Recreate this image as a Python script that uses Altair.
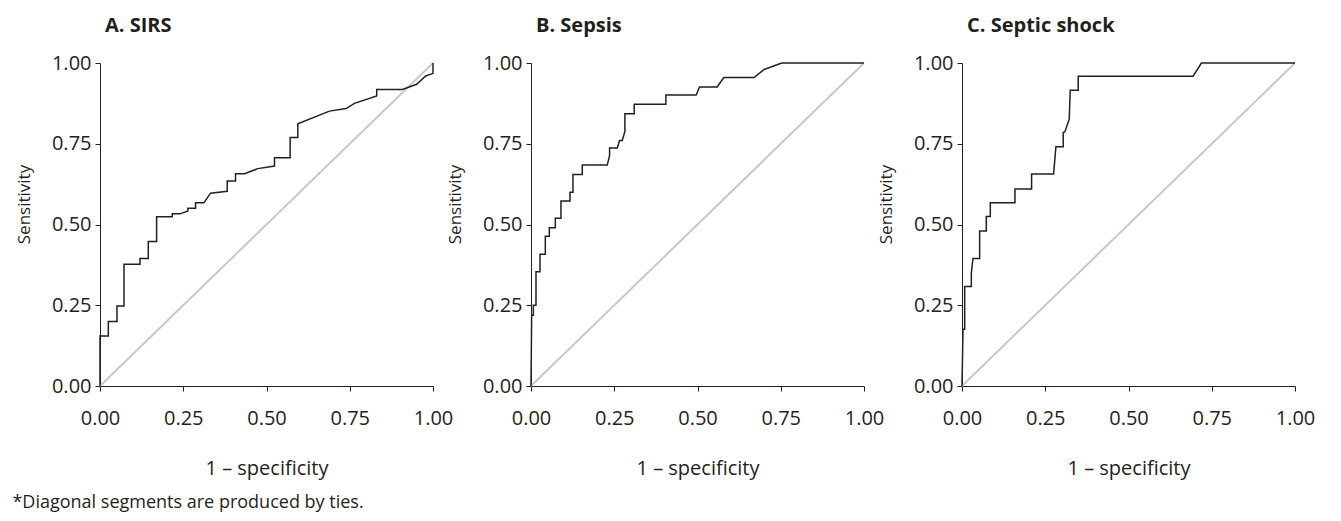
import altair as alt
import pandas as pd

TICKS = [0, 0.25, 0.5, 0.75, 1]

# Panel A. SIRS  (1 - specificity, sensitivity)
sirs_fpr = [0, 0, 0.025, 0.025, 0.051, 0.051, 0.072, 0.072, 0.12, 0.12, 0.145, 0.145,
            0.17, 0.17, 0.217, 0.217, 0.24, 0.264, 0.264, 0.287, 0.287, 0.312, 0.332,
            0.382, 0.382, 0.407, 0.407, 0.434, 0.474, 0.524, 0.524, 0.571, 0.571,
            0.594, 0.594, 0.689, 0.739, 0.764, 0.831, 0.831, 0.908, 0.951, 0.978, 1.0, 1.0]
sirs_tpr = [0, 0.155, 0.155, 0.20, 0.20, 0.248, 0.248, 0.377, 0.377, 0.395, 0.395, 0.447,
            0.447, 0.524, 0.524, 0.533, 0.533, 0.542, 0.55, 0.55, 0.567, 0.567, 0.597,
            0.603, 0.635, 0.635, 0.657, 0.657, 0.673, 0.681, 0.707, 0.707, 0.769,
            0.769, 0.812, 0.851, 0.859, 0.875, 0.898, 0.918, 0.918, 0.934, 0.96, 0.968, 1.0]

# Panel B. Sepsis
sepsis_fpr = [0, 0.002, 0.007, 0.007, 0.015, 0.015, 0.027, 0.027, 0.043, 0.043, 0.055, 0.055,
              0.073, 0.073, 0.09, 0.09, 0.117, 0.117, 0.126, 0.126, 0.154, 0.154, 0.229,
              0.236, 0.236, 0.259, 0.266, 0.274, 0.282, 0.282, 0.31, 0.31, 0.405, 0.405,
              0.496, 0.506, 0.559, 0.579, 0.67, 0.70, 0.753, 1.0]
sepsis_tpr = [0, 0.219, 0.219, 0.25, 0.25, 0.354, 0.354, 0.408, 0.408, 0.464, 0.464, 0.49,
              0.49, 0.519, 0.519, 0.573, 0.573, 0.60, 0.60, 0.655, 0.655, 0.684, 0.684,
              0.714, 0.737, 0.737, 0.76, 0.76, 0.788, 0.843, 0.843, 0.872, 0.872, 0.901,
              0.901, 0.926, 0.926, 0.955, 0.955, 0.98, 1.0, 1.0]

# Panel C. Septic shock
shock_fpr = [0, 0.003, 0.008, 0.008, 0.028, 0.028, 0.033, 0.053, 0.053, 0.073, 0.073, 0.085,
             0.085, 0.159, 0.159, 0.209, 0.209, 0.275, 0.282, 0.304, 0.304, 0.309, 0.322,
             0.325, 0.349, 0.349, 0.694, 0.719, 1.0]
shock_tpr = [0, 0.176, 0.176, 0.308, 0.308, 0.349, 0.395, 0.395, 0.48, 0.48, 0.525, 0.525,
             0.567, 0.567, 0.61, 0.61, 0.656, 0.656, 0.741, 0.741, 0.785, 0.787, 0.826,
             0.916, 0.916, 0.959, 0.959, 1.0, 1.0]

titles = ["A. SIRS", "B. Sepsis", "C. Septic shock"]
diag_x = [0, 1]
diag_y = [0, 1]

FONT = "Open Sans"
INK = "#231f20"


def panel(xs, ys, title):
    df = pd.DataFrame({"fpr": xs, "tpr": ys, "order": list(range(len(xs)))})
    diag = pd.DataFrame({"fpr": diag_x, "tpr": diag_y})
    xenc = alt.X("fpr:Q",
                 scale=alt.Scale(domain=[0, 1], nice=False, zero=False),
                 axis=alt.Axis(values=TICKS, format=".2f", title="1 – specificity",
                               labelFlush=False, labelPadding=17, titlePadding=30,
                               titleFontSize=20))
    yenc = alt.Y("tpr:Q",
                 scale=alt.Scale(domain=[0, 1], nice=False, zero=False),
                 axis=alt.Axis(values=TICKS, format=".2f", title="Sensitivity",
                               labelFlush=False, labelPadding=4, titlePadding=18,
                               titleY=141, titleFontSize=17))
    d = alt.Chart(diag).mark_line(color="#c8c8c8", strokeWidth=2).encode(x=xenc, y=yenc)
    c = alt.Chart(df).mark_line(color=INK, strokeWidth=1.5).encode(
        x=xenc, y=yenc, order="order:Q")
    return alt.layer(d, c).properties(
        width=333, height=323,
        title=alt.TitleParams(title, anchor="start", frame="group", dx=5, fontSize=20,
                              fontWeight="bold", font=FONT, color=INK, offset=17))


chart = alt.hconcat(
    panel(sirs_fpr, sirs_tpr, titles[0]),
    panel(sepsis_fpr, sepsis_tpr, titles[1]),
    panel(shock_fpr, shock_tpr, titles[2]),
    spacing=98, bounds="flush",
).properties(
    padding={"left": 4, "top": 8, "right": 5, "bottom": 5},
    title=alt.TitleParams("*Diagonal segments are produced by ties.", orient="bottom",
                          anchor="start", fontSize=18, fontWeight="normal", font=FONT,
                          color=INK, offset=16, dx=-3),
).configure_view(stroke=None).configure_axis(
    grid=False, domainColor=INK, tickColor=INK, tickSize=5,
    labelFont=FONT, labelFontSize=20, labelColor=INK,
    titleFont=FONT, titleFontSize=19, titleFontWeight="normal", titleColor=INK,
)

chart.save("out.html", embed_options={"renderer": "svg", "actions": False})
